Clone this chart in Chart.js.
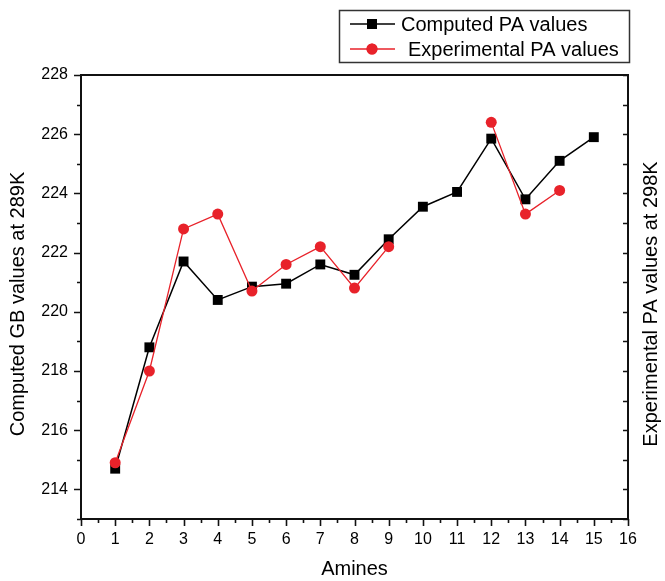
<!DOCTYPE html>
<html>
<head>
<meta charset="utf-8">
<title>Computed and experimental PA values</title>
<script src="https://cdn.jsdelivr.net/npm/chart.js@4.4.0/dist/chart.umd.min.js"></script>
<style>
  html, body { margin: 0; padding: 0; background: #fff; }
  #contenedor { width: 665px; height: 581px; }
</style>
</head>
<body>
<div id="contenedor"><canvas id="grafico" width="665" height="581"></canvas></div>
<script>
// amine number on the x axis
const aminas = [1, 2, 3, 4, 5, 6, 7, 8, 9, 10, 11, 12, 13, 14, 15];
// computed PA (GB at 289K)
const calculados = [214.7, 218.8, 221.7, 220.4, 220.85, 220.95, 221.6, 221.25, 222.45, 223.55, 224.05, 225.85, 223.8, 225.1, 225.9];
// experimental PA at 298K (no value for amines 10, 11 and 15)
const experimentales = [214.9, 218.0, 222.8, 223.3, 220.7, 221.6, 222.2, 220.8, 222.2, null, null, 226.4, 223.3, 224.1, null];

const ejeX = { min: 0, max: 16, paso: 1 };
const ejeY = { min: 213, max: 228, paso: 1 };

const tituloIzq = 'Computed GB values at 289K';
const tituloDer = 'Experimental PA values at 298K';

const fuente = '"Liberation Sans", Arial, sans-serif';
const rojo = '#e8222a';
const negro = '#000000';

Chart.defaults.font.family = fuente;
Chart.defaults.color = '#000';

const puntos = (serie) => aminas.map((a, i) => ({ x: a, y: serie[i] }));

// frame plus the tick marks (long at labelled values, short in between)
const marcoEjes = {
  id: 'marcoEjes',
  beforeDatasetsDraw(chart) {
    const { ctx, chartArea: a, scales } = chart;
    ctx.save();
    ctx.strokeStyle = '#111';
    ctx.lineWidth = 1.6;
    ctx.beginPath();
    for (let v = ejeX.min; v <= ejeX.max; v += 0.5) {
      const px = Math.round(scales.x.getPixelForValue(v)) + 0.5;
      const largo = Number.isInteger(v) ? 7 : 4;
      ctx.moveTo(px, a.bottom);
      ctx.lineTo(px, a.bottom + largo);
    }
    for (let v = ejeY.min; v <= ejeY.max; v++) {
      const py = Math.round(scales.y.getPixelForValue(v)) + 0.5;
      const largo = v % 2 === 0 ? 7 : 4;
      ctx.moveTo(a.left - largo, py);
      ctx.lineTo(a.left, py);
      ctx.moveTo(a.right, py);
      ctx.lineTo(a.right - 5, py);
    }
    ctx.stroke();
    ctx.lineWidth = 2;
    ctx.strokeRect(a.left, a.top, a.right - a.left, a.bottom - a.top);
    ctx.restore();
  }
};

// boxed legend at the top right and both vertical axis titles
const leyenda = {
  id: 'leyenda',
  afterDraw(chart) {
    const { ctx } = chart;
    ctx.save();
    ctx.strokeStyle = '#333';
    ctx.lineWidth = 1.5;
    ctx.strokeRect(339.5, 10.5, 290, 52);

    const filas = [
      { ds: chart.data.datasets[0], y: 24, xTexto: 401 },
      { ds: chart.data.datasets[1], y: 49, xTexto: 408 }
    ];
    ctx.font = '20px ' + fuente;
    ctx.textBaseline = 'middle';
    ctx.textAlign = 'left';
    filas.forEach(f => {
      ctx.strokeStyle = f.ds.borderColor;
      ctx.lineWidth = f.ds.borderWidth;
      ctx.beginPath();
      ctx.moveTo(350, f.y);
      ctx.lineTo(395, f.y);
      ctx.stroke();
      ctx.fillStyle = f.ds.pointBackgroundColor;
      Chart.helpers.drawPoint(ctx, {
        pointStyle: f.ds.pointStyle,
        radius: f.ds.pointRadius,
        borderWidth: 0,
        rotation: 0
      }, 372, f.y);
      ctx.fill();
      ctx.fillStyle = '#000';
      ctx.fillText(f.ds.label, f.xTexto, f.y + 1);
    });

    // both titles read bottom to top, a bit below the plot's middle
    ctx.textAlign = 'center';
    [[tituloIzq, 18], [tituloDer, 651]].forEach(([texto, x]) => {
      ctx.save();
      ctx.translate(x, 304);
      ctx.rotate(-Math.PI / 2);
      ctx.fillText(texto, 0, 0);
      ctx.restore();
    });
    ctx.restore();
  }
};

new Chart(document.getElementById('grafico'), {
  type: 'line',
  data: {
    datasets: [
      {
        label: 'Computed PA values',
        data: puntos(calculados),
        borderColor: negro,
        backgroundColor: negro,
        pointBackgroundColor: negro,
        pointBorderColor: negro,
        borderWidth: 1.5,
        pointStyle: 'rect',
        pointRadius: 7,
        pointBorderWidth: 0,
        order: 1
      },
      {
        label: 'Experimental PA values',
        data: puntos(experimentales),
        borderColor: rojo,
        backgroundColor: rojo,
        pointBackgroundColor: rojo,
        pointBorderColor: rojo,
        borderWidth: 1.3,
        pointStyle: 'circle',
        pointRadius: 5.5,
        pointBorderWidth: 0,
        spanGaps: false,
        order: 0
      }
    ]
  },
  options: {
    responsive: false,
    animation: false,
    layout: { padding: { top: 75 } },
    plugins: {
      legend: { display: false },
      tooltip: { enabled: false }
    },
    scales: {
      x: {
        type: 'linear',
        min: ejeX.min,
        max: ejeX.max,
        grid: { display: false, drawTicks: false },
        border: { display: false },
        ticks: { stepSize: ejeX.paso, autoSkip: false, maxRotation: 0, padding: 11, font: { size: 16 } },
        title: { display: true, text: 'Amines', font: { size: 20 }, padding: { top: 0, bottom: 0 } },
        afterFit(s) { s.height = 62; }
      },
      y: {
        min: ejeY.min,
        max: ejeY.max,
        grid: { display: false, drawTicks: false },
        border: { display: false },
        ticks: {
          stepSize: ejeY.paso,
          autoSkip: false,
          padding: 13,
          font: { size: 16 },
          callback: v => (v % 2 === 0 ? String(v) : '')
        },
        afterFit(s) { s.width = 81; }
      },
      y2: {
        position: 'right',
        min: ejeY.min,
        max: ejeY.max,
        grid: { display: false, drawTicks: false },
        border: { display: false },
        ticks: { display: false },
        afterFit(s) { s.width = 37; }
      }
    }
  },
  plugins: [marcoEjes, leyenda]
});
</script>
</body>
</html>
